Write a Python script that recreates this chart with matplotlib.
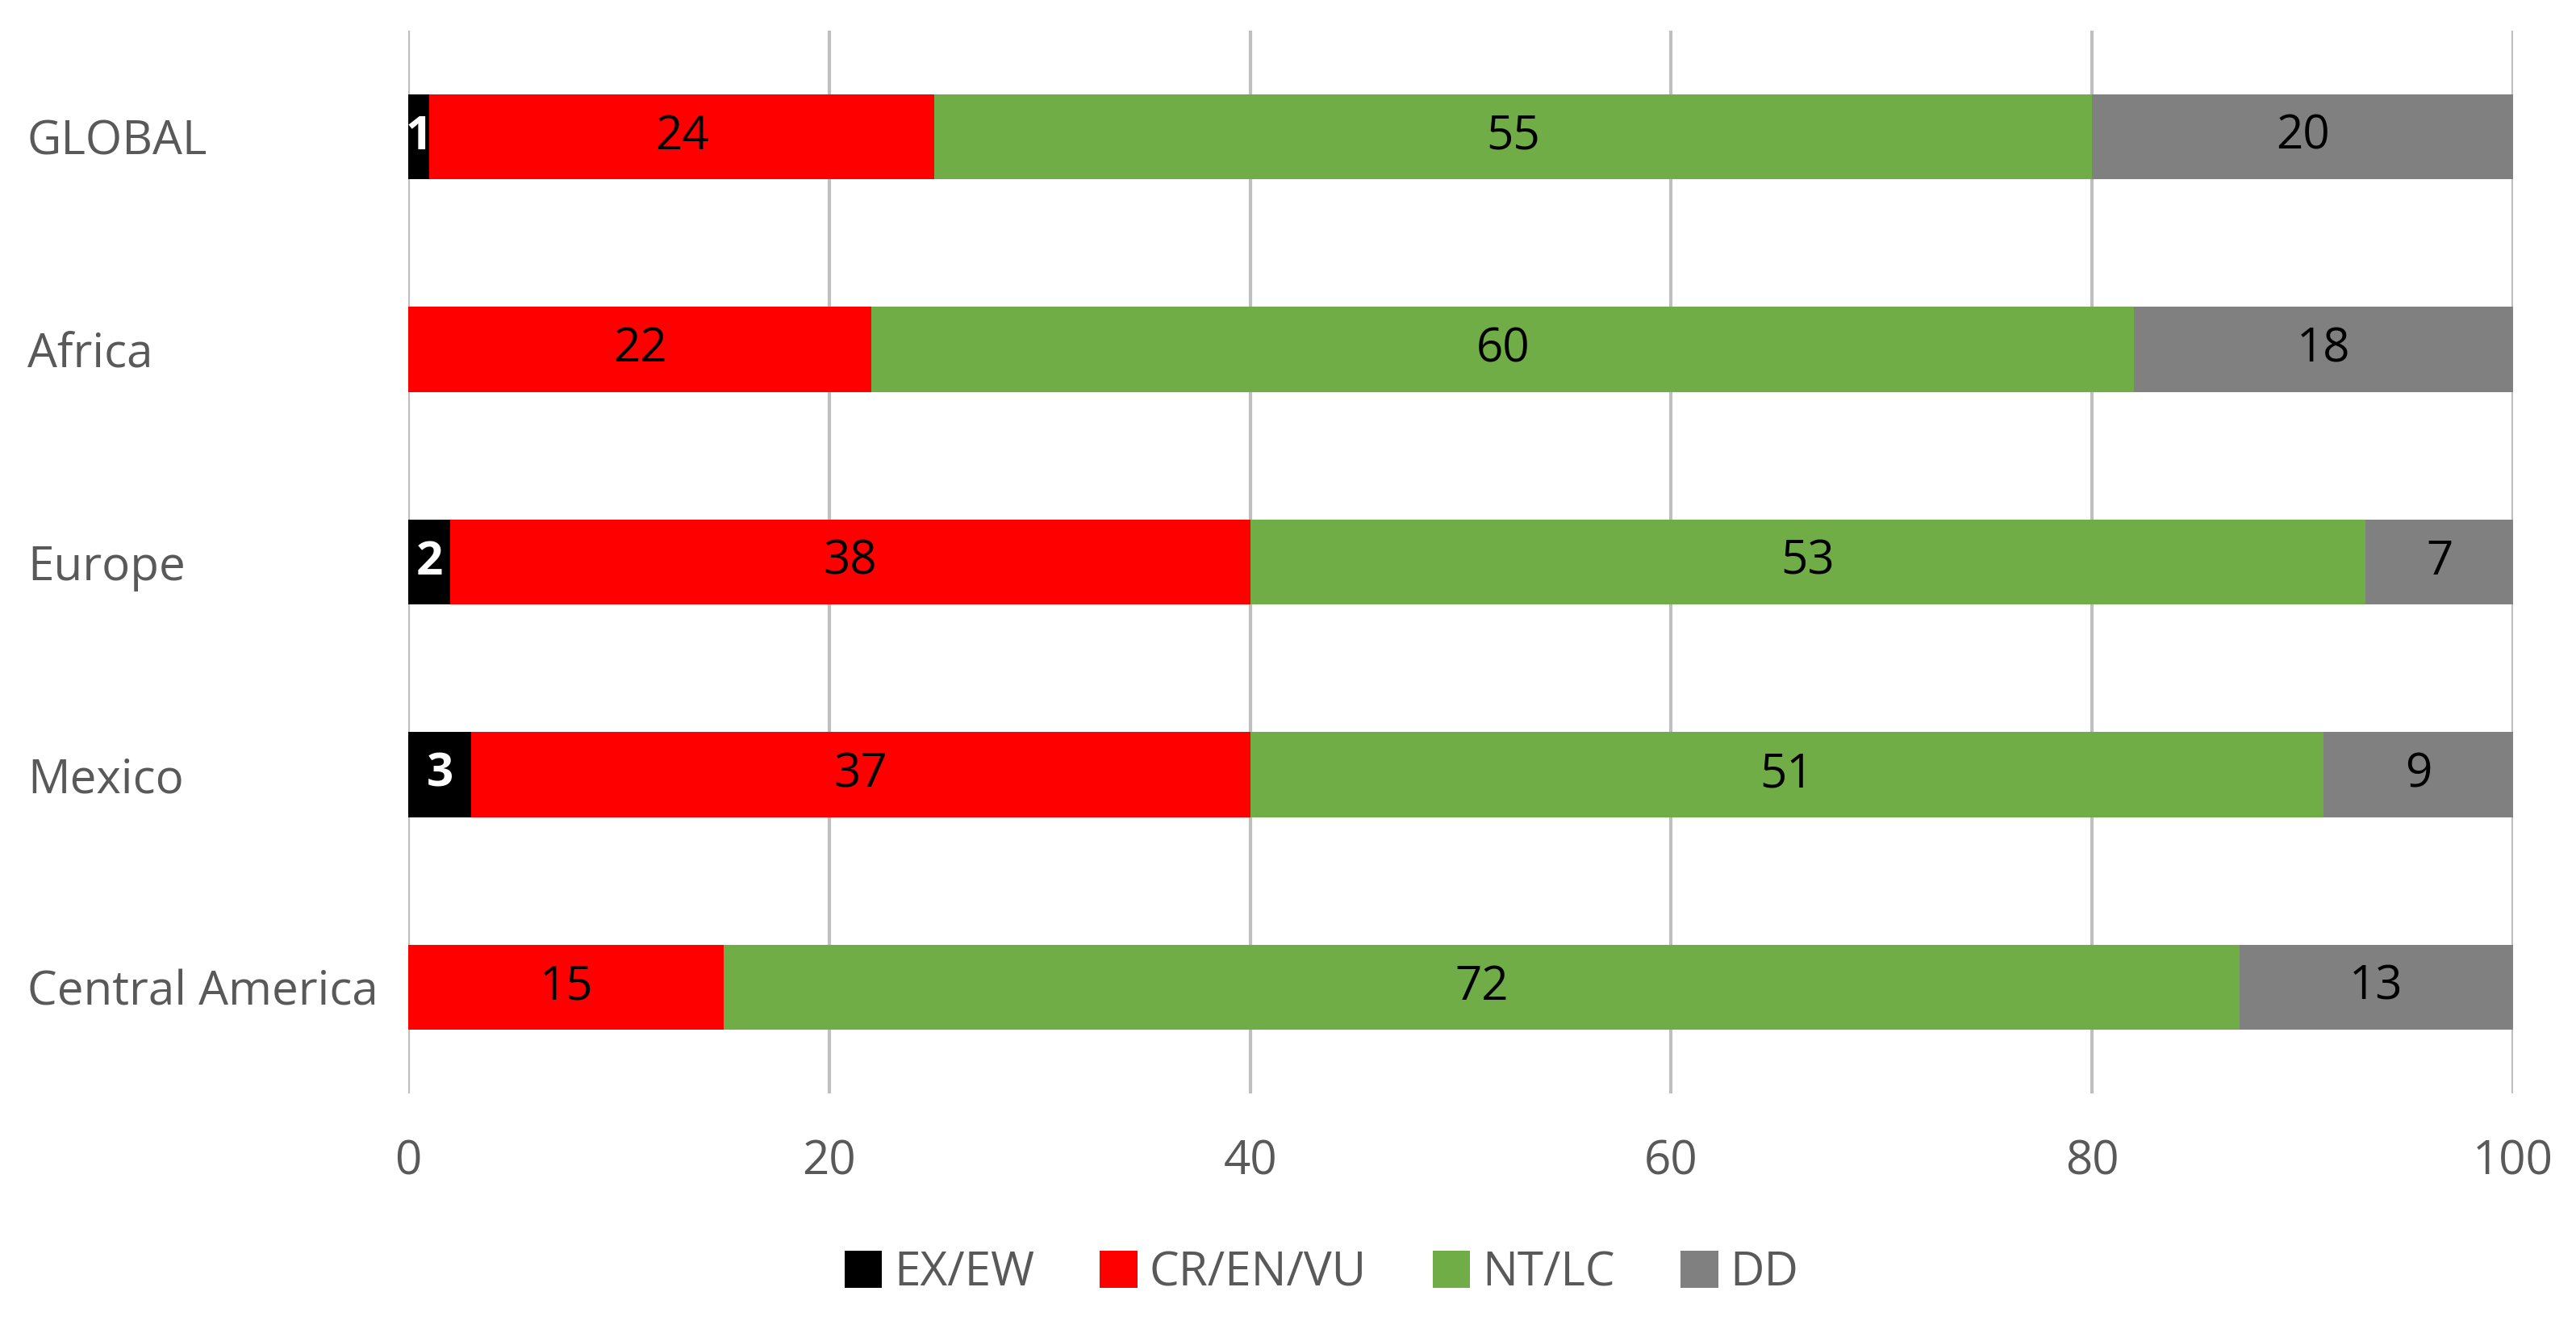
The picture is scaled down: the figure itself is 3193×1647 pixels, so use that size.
import matplotlib
matplotlib.use("Agg")
from matplotlib import pyplot as plt
import numpy as np

regions = ["GLOBAL", "Africa", "Europe", "Mexico", "Central America"]
series = ["EX/EW", "CR/EN/VU", "NT/LC", "DD"]
ex_ew = [1, 0, 2, 3, 0]
cr_en_vu = [24, 22, 38, 37, 15]
nt_lc = [55, 60, 53, 51, 72]
dd = [20, 18, 7, 9, 13]
x_ticks = [0, 20, 40, 60, 80, 100]

colors = ["#000000", "#ff0000", "#70ad47", "#808080"]
label_colors = ["white", "black", "black", "black"]

plt.rcParams["font.family"] = ["Open Sans", "DejaVu Sans"]
fs = 42

fig = plt.figure(figsize=(31.93, 16.47), dpi=100)
ax = fig.add_axes([0.1585, 0.1773, 0.8171, 0.7996])

y = np.arange(len(regions))
left = np.zeros(len(regions))
for name, vals, col, lcol in zip(series, [ex_ew, cr_en_vu, nt_lc, dd], colors, label_colors):
    vals = np.array(vals, dtype=float)
    bars = ax.barh(y, vals, left=left, height=0.4, color=col, label=name, zorder=3)
    labels = [str(int(v)) if v > 0 else "" for v in vals]
    weight = "bold" if lcol == "white" else "normal"
    ax.bar_label(bars, labels=labels, label_type="center", color=lcol,
                 fontsize=fs, fontweight=weight)
    left += vals

ax.set_xlim(0, 100)
ax.set_ylim(4.5, -0.5)
ax.set_xticks(x_ticks)
ax.set_yticks(y)
ax.set_yticklabels(regions, ha="left")
ax.grid(axis="x", color="#bfbfbf", linewidth=3, zorder=0)
ax.tick_params(axis="x", length=0, pad=40, labelsize=fs, labelcolor="#595959")
ax.tick_params(axis="y", length=0, pad=340, labelsize=fs, labelcolor="#595959")
for s in ax.spines.values():
    s.set_visible(False)

fig.legend(loc="center", bbox_to_anchor=(0.513, 0.042), ncol=4, frameon=False,
           fontsize=fs, handlelength=0.8, handleheight=0.85, handletextpad=0.25,
           columnspacing=1.4, labelcolor="#595959")

fig.savefig("out.png", dpi=100)
